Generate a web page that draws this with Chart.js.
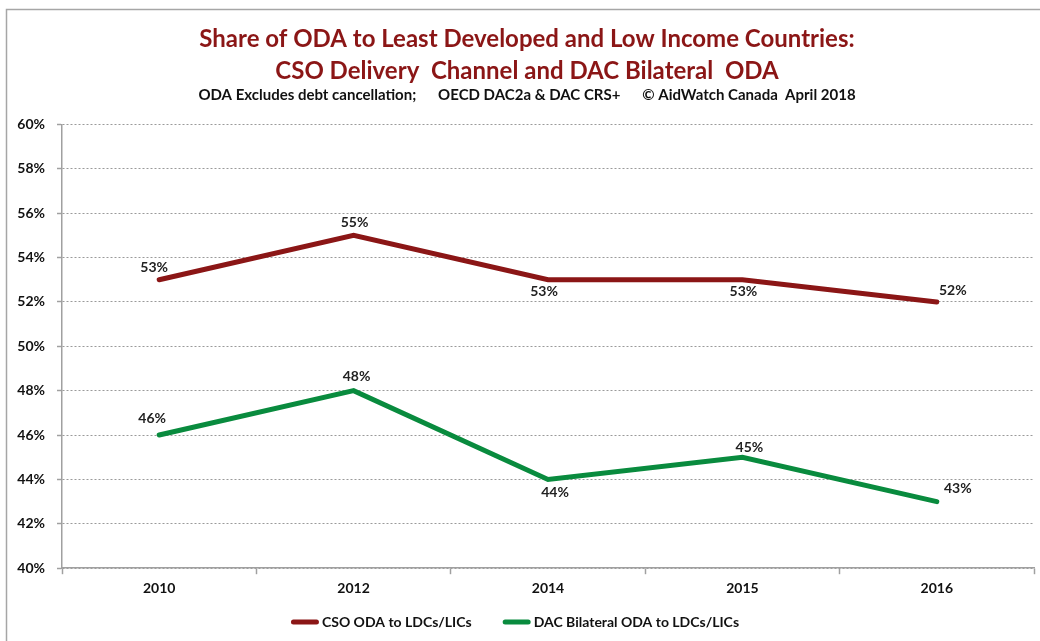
<!DOCTYPE html>
<html>
<head>
<meta charset="utf-8">
<title>Share of ODA to LDCs/LICs</title>
<script src="https://cdn.jsdelivr.net/npm/chart.js@4.4.1/dist/chart.umd.min.js"></script>
<style>
  html, body { margin: 0; padding: 0; background: #fff; }
  #wrap { width: 1040px; height: 641px; position: relative; }
</style>
</head>
<body>
<div id="wrap"><canvas id="chart" width="1040" height="641"></canvas></div>
<script>
// values in percent
var years = ['2010', '2012', '2014', '2015', '2016'];
var csoShare = [53, 55, 53, 53, 52];
var dacShare = [46, 48, 44, 45, 43];
var yTicks = [40, 42, 44, 46, 48, 50, 52, 54, 56, 58, 60];

var FONT = 'Lato, "Liberation Sans", sans-serif';
var RED = '#8B1616';
var GREEN = '#098B3E';

// where each value label sits relative to its point (dx, dy)
var labelPos = [
    [[-5, -12], [1, -13], [-4, 12], [1, 12], [16, -11]],
    [[-7, -17], [3, -14], [7, 13], [7, -10], [21, -13]]
];

// frame around the chart (left and top edges only show)
var frameLines = {
    id: 'frameLines',
    beforeDraw: function(chart) {
        var ctx = chart.ctx;
        ctx.save();
        ctx.strokeStyle = '#a6a6a6';
        ctx.lineWidth = 1.5;
        ctx.beginPath();
        ctx.moveTo(6.5, 641);
        ctx.lineTo(6.5, 9.5);
        ctx.lineTo(1040, 9.5);
        ctx.stroke();
        ctx.restore();
    }
};

// nudge the title block right
var shiftTitle = {
    id: 'shiftTitle',
    afterLayout: function(chart) {
        chart.boxes.forEach(function(box) {
            if (box.position === 'top' && box.options && box.options.text !== undefined) {
                box.left += 16;
            }
        });
    }
};

// legend row under the axis: short line, then the series name
var lineLegend = {
    id: 'lineLegend',
    afterDraw: function(chart) {
        var ctx = chart.ctx;
        var lineW = 28, gap = 3, itemGap = 31, centerX = 515, y = 622;
        ctx.save();
        ctx.font = 'bold 14px ' + FONT;
        var items = chart.data.datasets.map(function(ds) {
            return { ds: ds, w: lineW + gap + ctx.measureText(ds.label).width };
        });
        var total = items.reduce(function(s, it) { return s + it.w; }, 0) + itemGap * (items.length - 1);
        var x = centerX - total / 2;
        items.forEach(function(it) {
            ctx.strokeStyle = it.ds.borderColor;
            ctx.lineWidth = it.ds.borderWidth;
            ctx.lineCap = 'round';
            ctx.beginPath();
            ctx.moveTo(x + 2.5, y);
            ctx.lineTo(x + lineW - 2.5, y);
            ctx.stroke();
            ctx.fillStyle = '#111';
            ctx.textAlign = 'left';
            ctx.textBaseline = 'middle';
            ctx.fillText(it.ds.label, x + lineW + gap, y);
            x += it.w + itemGap;
        });
        ctx.restore();
    }
};

// percent labels next to each point
var valueLabels = {
    id: 'valueLabels',
    afterDatasetsDraw: function(chart) {
        var ctx = chart.ctx;
        ctx.save();
        ctx.font = 'bold 14px ' + FONT;
        ctx.fillStyle = '#222';
        ctx.textAlign = 'center';
        ctx.textBaseline = 'middle';
        chart.data.datasets.forEach(function(ds, d) {
            var meta = chart.getDatasetMeta(d);
            meta.data.forEach(function(pt, i) {
                var off = labelPos[d][i];
                ctx.fillText(ds.data[i] + '%', pt.x + off[0], pt.y + off[1]);
            });
        });
        ctx.restore();
    }
};

new Chart(document.getElementById('chart'), {
    type: 'line',
    data: {
        labels: years,
        datasets: [{
            label: 'CSO ODA to LDCs/LICs',
            data: csoShare,
            borderColor: RED,
            backgroundColor: RED,
            borderWidth: 5,
            borderCapStyle: 'round',
            borderJoinStyle: 'miter',
            pointRadius: 0,
            tension: 0
        }, {
            label: 'DAC Bilateral ODA to LDCs/LICs',
            data: dacShare,
            borderColor: GREEN,
            backgroundColor: GREEN,
            borderWidth: 5,
            borderCapStyle: 'round',
            borderJoinStyle: 'miter',
            pointRadius: 0,
            tension: 0
        }]
    },
    options: {
        responsive: false,
        animation: false,
        layout: { padding: { left: 4, right: 6, top: 0, bottom: 38 } },
        plugins: {
            title: {
                display: true,
                text: ['Share of ODA to Least Developed and Low Income Countries:', 'CSO Delivery  Channel and DAC Bilateral  ODA'],
                color: RED,
                font: { family: FONT, size: 24, weight: 'bold', lineHeight: 1.3 },
                padding: { top: 24, bottom: 0 }
            },
            subtitle: {
                display: true,
                text: 'ODA Excludes debt cancellation;      OECD DAC2a & DAC CRS+      \u00A9 AidWatch Canada  April 2018',
                color: '#111',
                font: { family: FONT, size: 15, weight: 'bold' },
                padding: { top: 0, bottom: 20 }
            },
            legend: { display: false },
            tooltip: { enabled: false }
        },
        scales: {
            x: {
                offset: true,
                grid: {
                    offset: true,
                    drawOnChartArea: false,
                    drawTicks: true,
                    tickLength: 6,
                    tickColor: '#a0a0a0',
                    tickWidth: 1.5
                },
                border: { color: '#a0a0a0', width: 1.5 },
                ticks: {
                    color: '#111',
                    padding: 6,
                    font: { family: FONT, size: 14, weight: 'bold' }
                }
            },
            y: {
                min: 40,
                max: 60,
                afterFit: function(scale) { scale.width = 58; },
                afterBuildTicks: function(scale) {
                    scale.ticks = yTicks.map(function(v) { return { value: v }; });
                },
                grid: {
                    color: '#9a9a9a',
                    lineWidth: 1,
                    tickLength: 5,
                    tickColor: '#a0a0a0',
                    tickWidth: 1.5
                },
                border: { color: '#a0a0a0', width: 1.5, dash: [2, 2] },
                ticks: {
                    color: '#111',
                    padding: 12,
                    font: { family: FONT, size: 14, weight: 'bold' },
                    callback: function(v) { return v + '%'; }
                }
            }
        }
    },
    plugins: [frameLines, shiftTitle, valueLabels, lineLegend]
});
</script>
</body>
</html>
